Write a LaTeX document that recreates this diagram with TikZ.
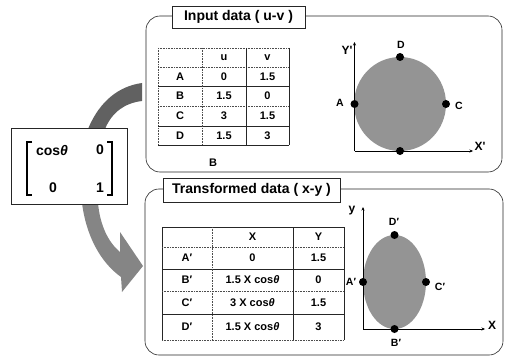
\documentclass[tikz,border=0pt]{standalone}
\usepackage{fontspec}
\setmainfont{Liberation Sans}
\usetikzlibrary{arrows.meta}
\begin{document}
\begin{tikzpicture}[x=1pt,y=-1pt,font=\bfseries,
  panel/.style={draw=black!85,line width=0.6pt,rounded corners=14pt},
  titlebox/.style={draw=black!85,fill=white,line width=0.7pt,inner sep=0pt,font=\bfseries\fontsize{14}{16}\selectfont},
  cell/.style={font=\bfseries\fontsize{11}{13}\selectfont,inner sep=0pt},
  solidln/.style={line width=0.8pt,black!85},
  dotln/.style={line width=0.6pt,black!70,densely dotted},
  pt/.style={circle,fill=black,inner sep=0pt,minimum size=8pt},
  blob/.style={fill=black!42},
  axisln/.style={line width=0.6pt,-{Stealth[length=3.5pt,width=3pt]}},
  axlbl/.style={font=\bfseries\fontsize{12}{14}\selectfont,inner sep=0pt},
  ptlbl/.style={font=\bfseries\fontsize{10.5}{12}\selectfont,inner sep=0pt},
  matbox/.style={draw=black!85,line width=0.7pt,fill=white,minimum width=116pt,minimum height=76pt,inner sep=0pt},
  mattext/.style={font=\bfseries\fontsize{14}{16}\selectfont,inner sep=0pt},
  bracket/.style={line width=1.3pt},
  arrowup/.style={fill=black!62},
  arrowdown/.style={fill=black!48}
]
\useasboundingbox (0,0) rectangle (505,358);

% ---------- curved arrows ----------
\fill[arrowup] (88,129) .. controls (100,100) and (120,86) .. (142,83)
  -- (142,101) .. controls (125,103) and (112,112) .. (105,129) -- cycle;
\fill[arrowdown] (82,203) .. controls (86,235) and (100,262) .. (121,277)
  -- (122,292) -- (143,266) -- (120,232) -- (120,252)
  .. controls (108,242) and (100,225) .. (98,203) -- cycle;

% ---------- matrix box ----------
\node[matbox] (mat) at (69,166) {};
\draw[bracket] (32,142) -- (27,142) -- (27,195) -- (32,195);
\draw[bracket] (107,142) -- (112,142) -- (112,195) -- (107,195);
\node[mattext] (m11) at (52,150) {cos\textit{θ}};
\node[mattext] (m12) at (100,150) {0};
\node[mattext] (m21) at (53,188) {0};
\node[mattext] (m22) at (100,188) {1};

% ---------- top panel ----------
\draw[panel] (146,16) rectangle (502,172);
\node[titlebox,minimum width=133pt,minimum height=22pt] (t1) at (238.5,17) {Input data ( u-v )};

% table lines
\draw[dotln] (158,48) -- (289,48);
\draw[dotln] (158,48) -- (158,145);
\draw[solidln] (289,48) -- (289,145);
\draw[solidln] (158,145) -- (289,145);
\draw[dotln] (158,67) -- (289,67);
\draw[solidln] (158,86) -- (289,86);
\draw[dotln] (158,106) -- (289,106);
\draw[solidln] (158,126) -- (289,126);
\draw[dotln] (202,48) -- (202,145);
\draw[solidln] (246,48) -- (246,145);

\node[cell] (hu) at (224,57.5) {u};
\node[cell] (hv) at (267.5,57.5) {v};
\node[cell] (ra) at (180,76.5) {A};
\node[cell] (rau) at (224,76.5) {0};
\node[cell] (rav) at (267.5,76.5) {1.5};
\node[cell] (rb) at (180,96) {B};
\node[cell] (rbu) at (224,96) {1.5};
\node[cell] (rbv) at (267.5,96) {0};
\node[cell] (rc) at (180,116) {C};
\node[cell] (rcu) at (224,116) {3};
\node[cell] (rcv) at (267.5,116) {1.5};
\node[cell] (rd) at (180,135.5) {D};
\node[cell] (rdu) at (224,135.5) {1.5};
\node[cell] (rdv) at (267.5,135.5) {3};
\node[cell] (bnote) at (213,163) {B};

% circle plot
\fill[blob] (400,104) ellipse [x radius=46, y radius=47];
\draw[axisln] (354.5,151) -- (354.5,42);
\draw[axisln] (354.5,151) -- (473,151);
\node[axlbl] (ly) at (347,50) {Y\textquotesingle};
\node[axlbl] (lx) at (480,146) {X\textquotesingle};
\node[pt] (pD) at (400,57) {};
\node[pt] (pA) at (354.5,104) {};
\node[pt] (pC) at (446,104) {};
\node[pt] (pB) at (400,151) {};
\node[ptlbl] (lD) at (401,45) {D};
\node[ptlbl] (lA) at (340,103) {A};
\node[ptlbl] (lC) at (459,106) {C};

% ---------- bottom panel ----------
\draw[panel] (145,189) rectangle (503,355);
\node[titlebox,minimum width=177pt,minimum height=24pt] (t2) at (251.5,190) {Transformed data ( x-y )};

\draw[solidln] (162,227) -- (344,227);
\draw[solidln] (162,227) -- (162,340);
\draw[solidln] (344,227) -- (344,340);
\draw[dotln] (162,340) -- (344,340);
\draw[dotln] (162,247) -- (344,247);
\draw[solidln] (162,269) -- (344,269);
\draw[dotln] (162,291) -- (344,291);
\draw[solidln] (162,314) -- (344,314);
\draw[dotln] (212,227) -- (212,340);
\draw[solidln] (293,227) -- (293,340);

\node[cell] (hx) at (252.5,237) {X};
\node[cell] (hy) at (318.5,237) {Y};
\node[cell] (sa) at (187,258) {A′};
\node[cell] (sax) at (252.5,258) {0};
\node[cell] (say) at (318.5,258) {1.5};
\node[cell] (sb) at (187,280) {B′};
\node[cell] (sbx) at (252.5,280) {1.5 X cos\textit{θ}};
\node[cell] (sby) at (318.5,280) {0};
\node[cell] (sc) at (187,302.5) {C′};
\node[cell] (scx) at (252.5,302.5) {3 X cos\textit{θ}};
\node[cell] (scy) at (318.5,302.5) {1.5};
\node[cell] (sd) at (187,327) {D′};
\node[cell] (sdx) at (252.5,327) {1.5 X cos\textit{θ}};
\node[cell] (sdy) at (318.5,327) {3};

% ellipse plot
\fill[blob] (394.5,282) ellipse [x radius=31.5, y radius=47];
\draw[axisln] (363,329) -- (363,207);
\draw[axisln] (363,329) -- (485,329);
\node[axlbl] (ly2) at (352,211) {y};
\node[axlbl] (lx2) at (492,325) {X};
\node[pt] (qD) at (394.5,235) {};
\node[pt] (qA) at (363,282) {};
\node[pt] (qC) at (426,282) {};
\node[pt] (qB) at (394.5,329) {};
\node[ptlbl] (mD) at (394,222) {D′};
\node[ptlbl] (mA) at (351,282) {A′};
\node[ptlbl] (mC) at (440,287) {C′};
\node[ptlbl] (mB) at (396,343) {B′};
\end{tikzpicture}
\end{document}
